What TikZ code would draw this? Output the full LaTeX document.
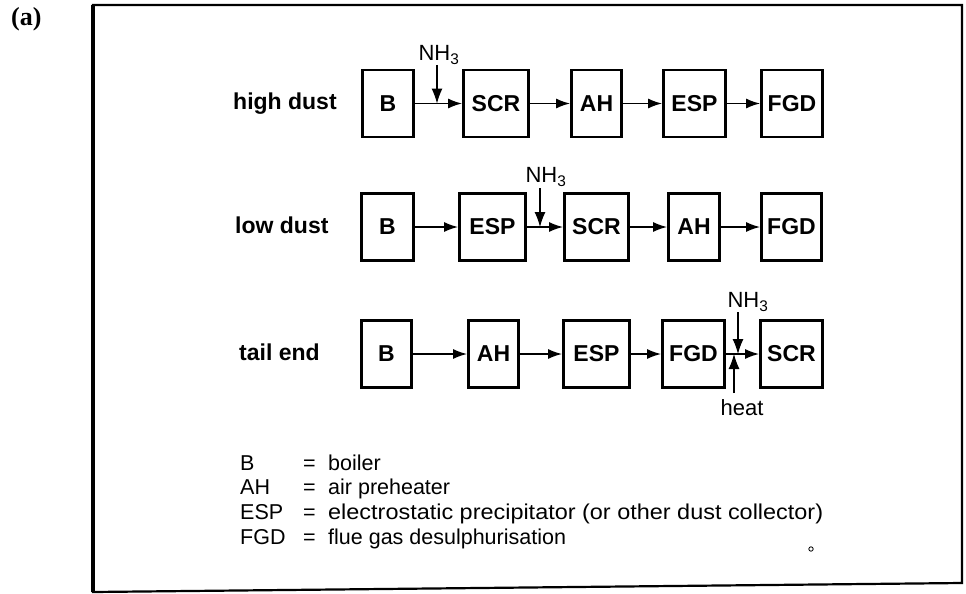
\documentclass[tikz,border=0pt]{standalone}
\usepackage{fontspec}
\setmainfont{Liberation Sans}
\newfontfamily\tiserif{Liberation Serif}
\usetikzlibrary{arrows.meta}
\begin{document}
\begin{tikzpicture}[x=1pt,y=-1pt,
  box/.style={draw, line width=2.8pt, inner sep=0pt, minimum height=67pt, font=\bfseries\fontsize{23}{25}\selectfont},
  flow/.style={line width=1.5pt, -{Latex[length=14pt,width=10pt]}},
  inj/.style={line width=1.1pt, -{Latex[length=15pt,width=11pt]}},
  rowlabel/.style={anchor=base west, inner sep=0pt, font=\bfseries\fontsize{23}{25}\selectfont},
  chem/.style={inner sep=0pt, font=\fontsize{22}{24}\selectfont},
  legend/.style={anchor=base west, inner sep=0pt, font=\fontsize{21.5}{24}\selectfont}]

\useasboundingbox (0,0) rectangle (966,594);

% frame
\draw[line width=2.2pt] (93,5) -- (962,5) -- (962,583) -- (93,592) -- cycle;
\draw[line width=3.2pt] (93,5) -- (93,592);
\node[inner sep=0pt, anchor=west, font=\tiserif\bfseries\fontsize{26}{28}\selectfont] (tag) at (11,19) {(a)};

% row labels
\node[rowlabel] (l1) at (233,109) {high dust};
\node[rowlabel] (l2) at (235,233) {low dust};
\node[rowlabel] (l3) at (239,360) {tail end};

% row 1
\node[box, minimum width=51pt] (r1b) at (388,103.5) {B};
\node[box, minimum width=65pt] (r1scr) at (496,103.5) {SCR};
\node[box, minimum width=50pt] (r1ah) at (596.5,103.5) {AH};
\node[box, minimum width=62pt] (r1esp) at (694.5,103.5) {ESP};
\node[box, minimum width=61pt] (r1fgd) at (792,103.5) {FGD};
\draw[flow] (r1b) -- (r1scr);
\draw[flow] (r1scr) -- (r1ah);
\draw[flow] (r1ah) -- (r1esp);
\draw[flow] (r1esp) -- (r1fgd);
\node[chem] (n1) at (439,55) {NH\textsubscript{3}};
\coordinate (j1s) at (437,65);
\coordinate (j1) at (437,103.5);
\draw[inj] (j1s) -- (j1);

% row 2
\node[box, minimum width=52pt] (r2b) at (387.5,227) {B};
\node[box, minimum width=66pt] (r2esp) at (492.5,227) {ESP};
\node[box, minimum width=64pt] (r2scr) at (596.5,227) {SCR};
\node[box, minimum width=51pt] (r2ah) at (694,227) {AH};
\node[box, minimum width=60pt] (r2fgd) at (791.5,227) {FGD};
\draw[flow] (r2b) -- (r2esp);
\draw[flow] (r2esp) -- (r2scr);
\draw[flow] (r2scr) -- (r2ah);
\draw[flow] (r2ah) -- (r2fgd);
\node[chem] (n2) at (546,177) {NH\textsubscript{3}};
\coordinate (j2s) at (540,188);
\coordinate (j2) at (540,227);
\draw[inj] (j2s) -- (j2);

% row 3
\node[box, minimum width=50pt] (r3b) at (386.5,354) {B};
\node[box, minimum width=50pt] (r3ah) at (493.5,354) {AH};
\node[box, minimum width=66pt] (r3esp) at (596.5,354) {ESP};
\node[box, minimum width=62pt] (r3fgd) at (693.5,354) {FGD};
\node[box, minimum width=62pt] (r3scr) at (791.5,354) {SCR};
\draw[flow] (r3b) -- (r3ah);
\draw[flow] (r3ah) -- (r3esp);
\draw[flow] (r3esp) -- (r3fgd);
\draw[flow] (r3fgd) -- (r3scr);
\node[chem] (n3) at (748,302) {NH\textsubscript{3}};
\coordinate (j3s) at (738,312);
\coordinate (j3) at (738,354);
\draw[inj] (j3s) -- (j3);
\node[chem] (heat) at (742,408) {heat};
\coordinate (h3s) at (734,393);
\coordinate (h3) at (734,354);
\draw[inj] (h3s) -- (h3);

% legend
\node[legend] (k1) at (240,470) {B};
\node[legend] (e1) at (303,470) {=};
\node[legend] (d1) at (328,470) {boiler};
\node[legend] (k2) at (240,494.7) {AH};
\node[legend] (e2) at (303,494.7) {=};
\node[legend] (d2) at (328,494.7) {air preheater};
\node[legend] (k3) at (240,519.4) {ESP};
\node[legend] (e3) at (303,519.4) {=};
\node[legend] (d3) at (328,519.4) {\scalebox{1.09}[1]{electrostatic precipitator (or other dust collector)}};
\node[legend] (k4) at (240,544.1) {FGD};
\node[legend] (e4) at (303,544.1) {=};
\node[legend] (d4) at (328,544.1) {flue gas desulphurisation};

\draw[line width=0.8pt] (811,549) circle (2.2);
\end{tikzpicture}
\end{document}
